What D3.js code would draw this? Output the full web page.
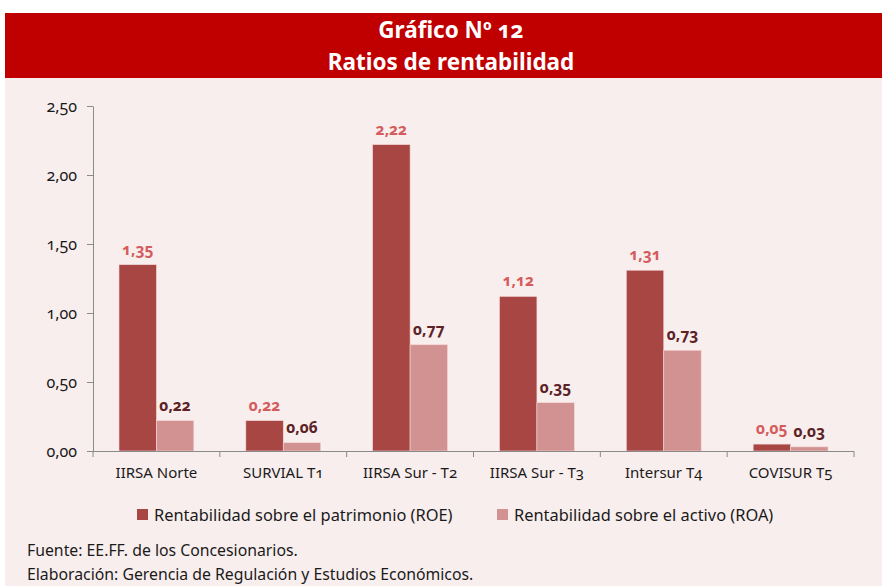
<!DOCTYPE html>
<html><head><meta charset="utf-8">
<script src="https://cdn.jsdelivr.net/npm/d3@7/dist/d3.min.js"></script>
<style>
html,body{margin:0;padding:0;background:#fff;}
svg text{font-family:"Noto Sans","Open Sans",sans-serif;font-variant-numeric:oldstyle-nums;font-feature-settings:"onum" 1;}
</style></head>
<body>
<svg id="chart" width="882" height="586"></svg>
<script>
const categories = ["IIRSA Norte","SURVIAL T1","IIRSA Sur - T2","IIRSA Sur - T3","Intersur T4","COVISUR T5"];
const seriesNames = ["Rentabilidad sobre el patrimonio (ROE)","Rentabilidad sobre el activo (ROA)"];
const roe = [1.35,0.22,2.22,1.12,1.31,0.05];
const roa = [0.22,0.06,0.77,0.35,0.73,0.03];
const yTicks = [0,0.5,1,1.5,2,2.5];
const titleLines = ["Gráfico Nº 12","Ratios de rentabilidad"];
const footer = ["Fuente: EE.FF. de los Concesionarios.","Elaboración: Gerencia de Regulación y Estudios Económicos."];

const colors = ["#a84644","#d39292"];
const labelColors = ["#d55c5c","#5c2226"];
const fmt = v => v.toFixed(2).replace(".", ",");

const svg = d3.select("#chart");
// backgrounds
svg.append("rect").attr("x",5).attr("y",78).attr("width",877).attr("height",508).attr("fill","#f9eeee");
svg.append("rect").attr("x",5).attr("y",13).attr("width",877).attr("height",65).attr("fill","#c00000");
svg.selectAll("text.title").data(titleLines).join("text").attr("class","title")
  .attr("x",451).attr("y",(d,i)=>38+i*32).attr("text-anchor","middle")
  .attr("fill","#fff").attr("font-size",22.5).attr("font-weight","bold").text(d=>d);

const y = d3.scaleLinear().domain([0,2.5]).range([451,106]);
const x = d3.scaleBand().domain(categories).range([93,854]).paddingInner(0.41).paddingOuter(0.205);
const x1 = d3.scaleBand().domain([0,1]).range([0,x.bandwidth()]);

// y axis
const ya = svg.append("g").attr("transform","translate(93,0)")
  .call(d3.axisLeft(y).tickValues(yTicks).tickFormat(fmt).tickSize(6).tickSizeOuter(0).tickPadding(10));
ya.select(".domain").attr("stroke","#8a8a8a");
ya.selectAll(".tick line").attr("stroke","#8a8a8a");
ya.selectAll(".tick text").attr("fill","#1a1a1a").attr("font-size",16).attr("font-family",null);

// bars
const data = categories.map((c,i)=>({c, vals:[roe[i],roa[i]]}));
const g = svg.append("g");
const grp = g.selectAll("g.grp").data(data).join("g").attr("transform",d=>`translate(${x(d.c)},0)`);
grp.selectAll("rect").data(d=>d.vals.map((v,k)=>({v,k}))).join("rect")
  .attr("x",d=>x1(d.k)).attr("width",x1.bandwidth())
  .attr("y",d=>y(d.v)).attr("height",d=>y(0)-y(d.v))
  .attr("fill",d=>colors[d.k]).attr("stroke","#f3d6d6").attr("stroke-width",0.6);
grp.selectAll("text").data(d=>d.vals.map((v,k)=>({v,k}))).join("text")
  .attr("x",d=>x1(d.k)+x1.bandwidth()/2).attr("y",d=>y(d.v)-10)
  .attr("text-anchor","middle").attr("font-size",15.5).attr("font-weight","bold")
  .attr("fill",d=>labelColors[d.k]).text(d=>fmt(d.v));

// x axis
const xa = svg.append("g").attr("transform","translate(0,451)")
  .call(d3.axisBottom(x).tickSize(0).tickPadding(16));
xa.select(".domain").attr("d",`M${x.range()[0]},0.5H${x.range()[1]}`).attr("stroke","#8a8a8a");
xa.selectAll(".tick text").attr("fill","#1a1a1a").attr("font-size",15).attr("font-family",null);
const bounds = d3.range(categories.length+1).map(i=>x.range()[0]+i*x.step());
xa.selectAll("line.bt").data(bounds).join("line").attr("class","bt")
  .attr("x1",d=>d).attr("x2",d=>d).attr("y1",0).attr("y2",6).attr("stroke","#8a8a8a");

// legend
const legX = [137,497];
const lg = svg.selectAll("g.leg").data(seriesNames).join("g").attr("class","leg")
  .attr("transform",(d,i)=>`translate(${legX[i]},509)`);
lg.append("rect").attr("width",11).attr("height",11).attr("fill",(d,i)=>colors[i]);
lg.append("text").attr("x",17).attr("y",11.5).attr("font-size",16.4).attr("fill","#1a1a1a").text(d=>d);

// footer
svg.selectAll("text.foot").data(footer).join("text").attr("class","foot")
  .attr("x",27).attr("y",(d,i)=>556+i*24).attr("font-size",15.8).attr("fill","#1a1a1a").text(d=>d);
</script>
</body></html>
